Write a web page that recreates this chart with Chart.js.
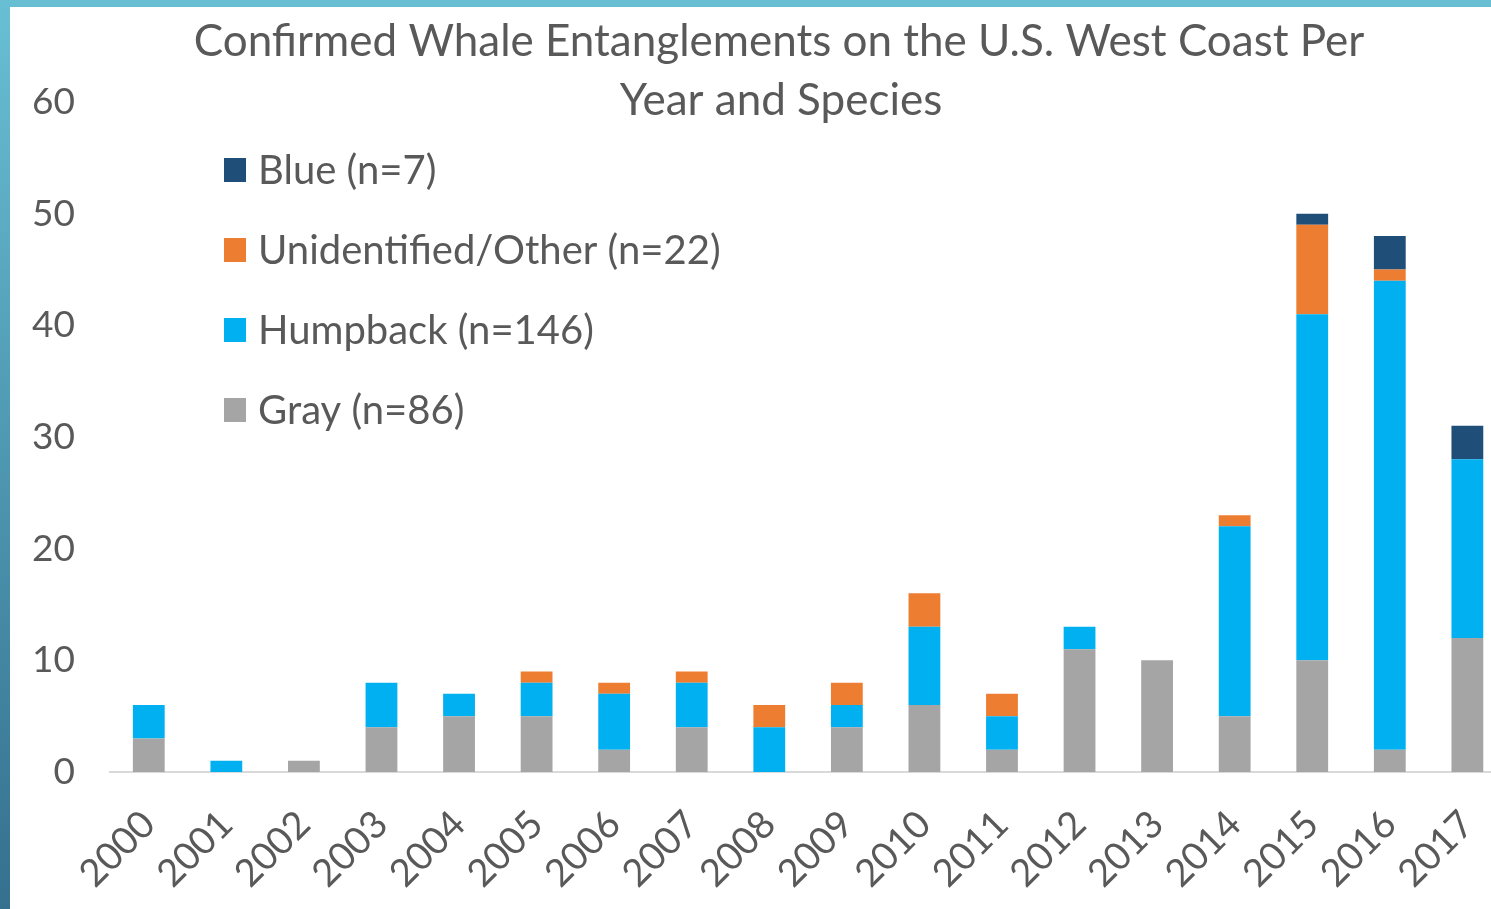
<!DOCTYPE html>
<html><head><meta charset="utf-8">
<script src="https://cdn.jsdelivr.net/npm/chart.js@4.4.1/dist/chart.umd.min.js"></script>
<style>
html,body{margin:0;padding:0;width:1491px;height:909px;overflow:hidden;background:linear-gradient(to bottom,#68bfd4,#35708f);}
#panel{position:absolute;left:10px;top:7px;right:0;bottom:0;background:#fff;}
#wrap{position:absolute;left:0;top:0;width:1530px;height:909px;}
</style></head><body><div id="panel"></div><div id="wrap"><canvas id="c"></canvas></div>
<script>
const years = ['2000','2001','2002','2003','2004','2005','2006','2007','2008','2009','2010','2011','2012','2013','2014','2015','2016','2017'];
const grayWhale   = [3,0,1,4,5,5,2,4,0,4,6,2,11,10,5,10,2,12];
const humpback    = [3,1,0,4,2,3,5,4,4,2,7,3,2,0,17,31,42,16];
const unidentified= [0,0,0,0,0,1,1,1,2,2,3,2,0,0,1,8,1,0];
const blueWhale   = [0,0,0,0,0,0,0,0,0,0,0,0,0,0,0,1,3,3];
const seriesLabels = ['Gray (n=86)','Humpback (n=146)','Unidentified/Other (n=22)','Blue (n=7)'];
const yTicks = [0,10,20,30,40,50,60];
const titleLines = ['Confirmed Whale Entanglements on the U.S. West Coast Per','Year and Species'];

const FONT = 'Lato, "Open Sans", sans-serif';
const TXT = '#595959';

const titlePlugin = {
  id:'titlePlugin',
  afterDraw(chart){
    const ctx = chart.ctx;
    ctx.save();
    ctx.fillStyle = TXT;
    ctx.font = '44px ' + FONT;
    ctx.textAlign = 'center';
    ctx.textBaseline = 'alphabetic';
    ctx.fillText(titleLines[0], 779, 56);
    ctx.fillText(titleLines[1], 781, 115);
    ctx.restore();
  }
};
const legendPlugin = {
  id:'legendPlugin',
  afterDraw(chart){
    const ctx = chart.ctx;
    const ds = chart.data.datasets.slice().reverse();
    ctx.save();
    ctx.font = '40px ' + FONT;
    ctx.textBaseline = 'middle';
    ds.forEach((d,i)=>{
      const cy = 170 + i*80;
      ctx.fillStyle = d.backgroundColor;
      ctx.fillRect(224, cy-12, 22, 24);
      ctx.fillStyle = TXT;
      ctx.fillText(d.label, 258, cy+1);
    });
    ctx.restore();
  }
};

new Chart(document.getElementById('c'), {
  type:'bar',
  data:{
    labels: years,
    datasets:[
      {label:seriesLabels[0], data:grayWhale, backgroundColor:'#a5a5a5'},
      {label:seriesLabels[1], data:humpback, backgroundColor:'#00b0f0'},
      {label:seriesLabels[2], data:unidentified, backgroundColor:'#ed7d31'},
      {label:seriesLabels[3], data:blueWhale, backgroundColor:'#1f4e79'}
    ]
  },
  options:{
    responsive:true, maintainAspectRatio:false, animation:false,
    barPercentage:0.41, categoryPercentage:1.0,
    layout:{padding:{left:0,right:14,top:102,bottom:0}},
    plugins:{legend:{display:false}, title:{display:false}, tooltip:{enabled:false}},
    scales:{
      x:{
        stacked:true,
        grid:{display:false, drawTicks:false},
        border:{display:true, color:'#d9d9d9', width:2},
        ticks:{color:TXT, font:{family:FONT, size:38}, minRotation:45, maxRotation:45, autoSkip:false, padding:30},
        afterFit(s){ s.height = 137; }
      },
      y:{
        stacked:true, min:0, max:60,
        grid:{display:false, drawTicks:false},
        border:{display:false},
        afterBuildTicks(s){ s.ticks = yTicks.map(v=>({value:v})); },
        ticks:{color:TXT, font:{family:FONT, size:37}, padding:35},
        afterFit(s){ s.width = 110; }
      }
    }
  },
  plugins:[titlePlugin, legendPlugin]
});
</script></body></html>
